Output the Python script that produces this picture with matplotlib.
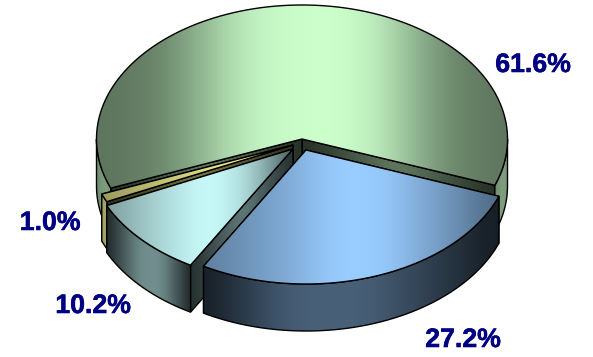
import numpy as np
import matplotlib
matplotlib.use("Agg")
import matplotlib.pyplot as plt
from matplotlib.path import Path
from matplotlib.patches import PathPatch
from matplotlib.colors import to_rgb
import matplotlib.patheffects as pe

values = [61.6, 1.0, 10.2, 27.2]
colors = ["#CCFFCC", "#FFFF99", "#CCFFFF", "#99CCFF"]
apex_offsets = [(0, 0), (-9, 6), (-9, 10), (4, 11)]
label_pos = [(533, 65), (50, 223), (93, 306), (463, 340)]

START = -20.2
CX, CY, RX, RY, DEPTH = 302, 139, 205.5, 134, 47

TOP_STOPS = [
    [(0, .46), (.09, .47), (.21, .6), (.295, .82), (.376, .95), (.5, 1), (.62, 1), (.68, .93),
     (.74, .8), (.82, .6), (.89, .5), (1, .46)],
    [(0, .6), (.5, .85), (.85, 1), (1, .7)],
    [(0, .62), (.3, .85), (.55, 1), (.75, .85), (1, .36)],
    [(0, .62), (.3, .85), (.43, 1), (.6, 1), (.85, .7), (1, .5)],
]
SIDE_STOPS = [
    [(0, .55), (.5, .62), (1, .6)],
    [(0, .62), (1, .68)],
    [(0, .16), (.4, .55), (.65, .55), (1, .15)],
    [(0, .14), (.3, .47), (.55, .47), (1, .13)],
]
WALL_STOPS = [(0, .18), (.5, .48), (1, .18)]

fig = plt.figure(figsize=(5.93, 3.57), dpi=100)
ax = fig.add_axes([0, 0, 1, 1])


def warp(deg):
    # the reference's slight perspective pulls the front-left of the ring round
    d = np.asarray(deg, dtype=float)
    return d - 1.8 * np.exp(-((np.mod(d, 360) - 240) / 22) ** 2)


def arc(cx, cy, a, b, dy=0):
    t = np.radians(warp(np.linspace(a, b, max(int(abs(b - a) * 2), 2))))
    return np.column_stack([cx + RX * np.cos(t), cy - RY * np.sin(t) + dy])


def fill(points, base, stops, z):
    pts = np.asarray(points)
    patch = PathPatch(Path(np.vstack([pts, pts[0]]), closed=True), facecolor="none",
                      edgecolor="black", lw=1.0, joinstyle="miter", zorder=z + 0.1)
    ax.add_patch(patch)
    x0, x1 = pts[:, 0].min(), pts[:, 0].max()
    y0, y1 = pts[:, 1].min(), pts[:, 1].max()
    n = max(int((x1 - x0) * 4), 8)
    xs = np.linspace(0, 1, n)
    f = np.interp(xs, [s[0] for s in stops], [s[1] for s in stops])
    w = max(n // 12, 1)
    f = np.convolve(np.pad(f, w, mode="edge"), np.ones(2 * w + 1) / (2 * w + 1), "valid")
    img = np.clip(f[None, :, None] * np.array(to_rgb(base))[None, None, :], 0, 1)
    im = ax.imshow(img, extent=(x0, x1, y1, y0), aspect="auto", zorder=z,
                   interpolation="nearest")
    im.set_clip_path(patch)


z = 1
angle = START
total = sum(values)
for i, (v, col, off) in enumerate(zip(values, colors, apex_offsets)):
    a = angle
    b = angle + v / total * 360
    angle = b
    cx, cy = CX + off[0], CY + off[1]

    # cut walls
    for e in (a, b):
        p = arc(cx, cy, e, e)[0]
        fill([(cx, cy), p, (p[0], p[1] + DEPTH), (cx, cy + DEPTH)], col, WALL_STOPS, z)
        z += 1

    # outer rim: only the part facing the viewer (lower half of the ellipse)
    for lo, hi in ((180, 360), (540, 720), (-180, 0)):
        s, e = max(a, lo), min(b, hi)
        if e > s:
            top = arc(cx, cy, s, e)
            bottom = arc(cx, cy, s, e, DEPTH)[::-1]
            fill(np.vstack([top, bottom]), col, SIDE_STOPS[i], z)
            z += 1

    # top face
    fill(np.vstack([[(cx, cy)], arc(cx, cy, a, b)]), col, TOP_STOPS[i], z)
    z += 1

for v, (x, y) in zip(values, label_pos):
    ax.text(x, y, f"{v:.1f}%", color="#000080", fontsize=19.2, fontweight="bold",
            family="Liberation Sans", ha="center", va="center", zorder=z,
            path_effects=[pe.withStroke(linewidth=0.4, foreground="#000080")])

ax.set_xlim(0, 593)
ax.set_ylim(357, 0)
ax.axis("off")
fig.savefig("out.png", dpi=100, facecolor="white")
